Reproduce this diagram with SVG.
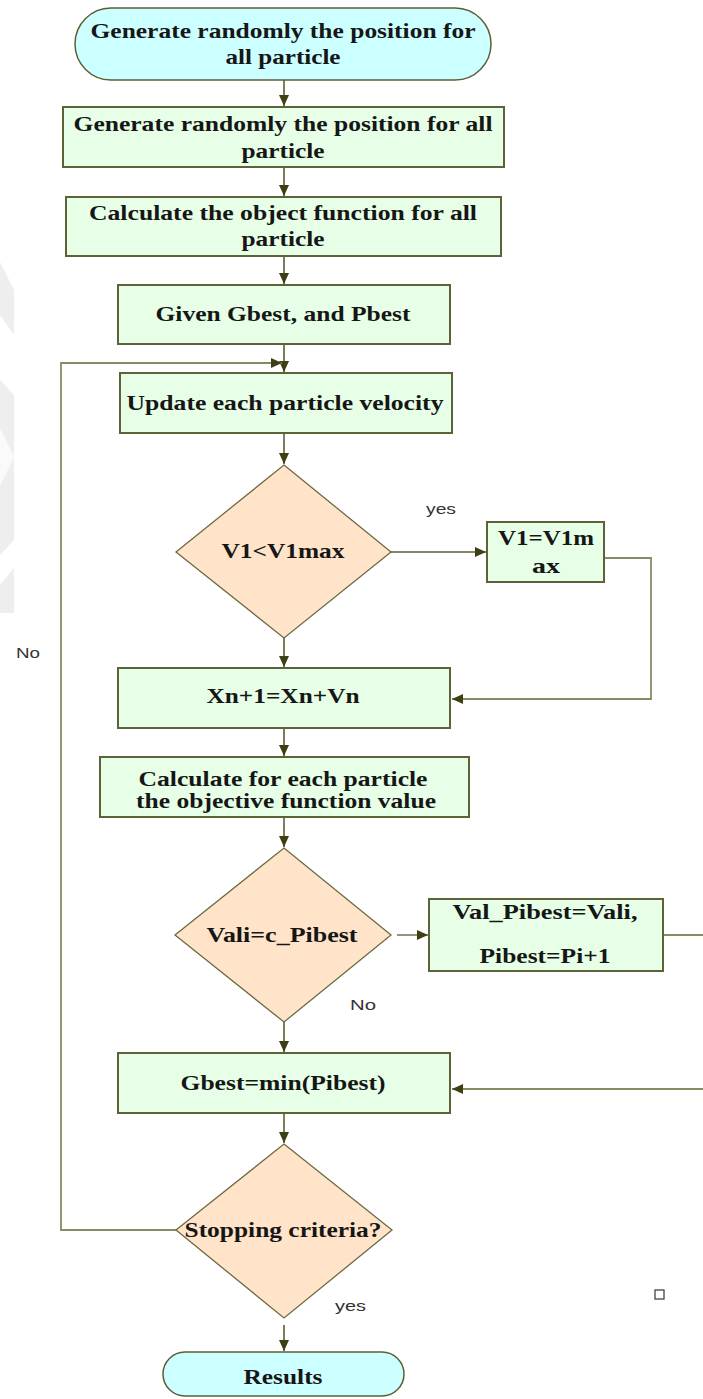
<svg xmlns="http://www.w3.org/2000/svg" width="703" height="1399" viewBox="0 0 703 1399">
<style>
.term{fill:#ccffff;stroke:#5e5e34;stroke-width:1.5}
.box{fill:#e6ffe6;stroke:#5e6238;stroke-width:2}
.dia{fill:#ffe4c9;stroke:#6e6a44;stroke-width:1.3}
.t{font-family:"Liberation Serif","Times New Roman",serif;font-weight:bold;font-size:21px;fill:#161616;text-anchor:middle}
.lbl{font-family:"Liberation Sans",Arial,sans-serif;font-size:15px;fill:#333}
.c{fill:none;stroke:#5e5e34;stroke-width:1.6}
.c2{fill:none;stroke:#8a8a66;stroke-width:1.8}
</style>
<defs>
<marker id="ah" markerUnits="userSpaceOnUse" markerWidth="12" markerHeight="10" refX="11" refY="5" orient="auto">
<path d="M0,0 L11,5 L0,10 Z" fill="#3f3f14"/>
</marker>
</defs>
<rect width="703" height="1399" fill="#fff"/>
<g id="watermark" fill="#eeeeee">
<polygon points="0,262 14,290 14,335 0,315"/>
<polygon points="0,380 14,395 14,540 0,555"/>
<polygon points="0,585 14,568 14,613 0,613"/>
<polygon points="0,428 14,457 0,486" fill="#fafafa"/>
</g>
<g id="connectors">
<path class="c" d="M284,80 V106" marker-end="url(#ah)"/>
<path class="c" d="M284,167 V196" marker-end="url(#ah)"/>
<path class="c" d="M284,256 V284" marker-end="url(#ah)"/>
<path class="c" d="M284,344 V372" marker-end="url(#ah)"/>
<path class="c" d="M284,433 V464" marker-end="url(#ah)"/>
<path class="c" d="M391,552 H486" marker-end="url(#ah)"/>
<path class="c2" d="M604,558 H651 V699 H452" marker-end="url(#ah)"/>
<path class="c" d="M284,638 V667" marker-end="url(#ah)"/>
<path class="c" d="M284,728 V756" marker-end="url(#ah)"/>
<path class="c" d="M284,817 V847" marker-end="url(#ah)"/>
<path class="c2" d="M397,935 H428" marker-end="url(#ah)"/>
<path class="c2" d="M663,935 H703"/>
<path class="c2" d="M703,1089 H452" marker-end="url(#ah)"/>
<path class="c" d="M284,1022 V1052" marker-end="url(#ah)"/>
<path class="c" d="M284,1113 V1143" marker-end="url(#ah)"/>
<path class="c2" d="M176,1230 H61 V363 H282" marker-end="url(#ah)"/>
<path class="c" d="M284,1325 V1351" marker-end="url(#ah)"/>
</g>
<g id="n_start">
<rect class="term" x="75" y="8" width="416" height="72" rx="36" ry="36"/>
<text class="t" x="283" y="38" textLength="385" lengthAdjust="spacingAndGlyphs">Generate randomly the position for</text>
<text class="t" x="283" y="64" textLength="115" lengthAdjust="spacingAndGlyphs">all particle</text>
</g>
<g id="n_gen">
<rect class="box" x="63" y="107" width="441" height="60"/>
<text class="t" x="283" y="131" textLength="419" lengthAdjust="spacingAndGlyphs">Generate randomly the position for all</text>
<text class="t" x="283" y="158" textLength="83" lengthAdjust="spacingAndGlyphs">particle</text>
</g>
<g id="n_calc">
<rect class="box" x="66" y="197" width="435" height="59"/>
<text class="t" x="283" y="220" textLength="388" lengthAdjust="spacingAndGlyphs">Calculate the object function for all</text>
<text class="t" x="283" y="246" textLength="83" lengthAdjust="spacingAndGlyphs">particle</text>
</g>
<g id="n_given">
<rect class="box" x="118" y="285" width="332" height="59"/>
<text class="t" x="283" y="321" textLength="255" lengthAdjust="spacingAndGlyphs">Given Gbest, and Pbest</text>
</g>
<g id="n_update">
<rect class="box" x="120" y="373" width="332" height="60"/>
<text class="t" x="285" y="410" textLength="317" lengthAdjust="spacingAndGlyphs">Update each particle velocity</text>
</g>
<g id="n_d1">
<polygon class="dia" points="284,465 391,552 284,638 176,552"/>
<text class="t" x="283" y="558" textLength="123" lengthAdjust="spacingAndGlyphs">V1&lt;V1max</text>
</g>
<g id="n_vmax">
<rect class="box" x="487" y="522" width="117" height="60"/>
<text class="t" x="546" y="545" textLength="96" lengthAdjust="spacingAndGlyphs">V1=V1m</text>
<text class="t" x="546" y="573" textLength="28" lengthAdjust="spacingAndGlyphs">ax</text>
</g>
<g id="n_x">
<rect class="box" x="118" y="668" width="332" height="60"/>
<text class="t" x="283" y="703" textLength="153" lengthAdjust="spacingAndGlyphs">Xn+1=Xn+Vn</text>
</g>
<g id="n_obj">
<rect class="box" x="100" y="757" width="369" height="60"/>
<text class="t" x="283" y="786" font-size="17" textLength="289" lengthAdjust="spacingAndGlyphs">Calculate for each particle</text>
<text class="t" x="286" y="808" font-size="17" textLength="300" lengthAdjust="spacingAndGlyphs">the objective function value</text>
</g>
<g id="n_d2">
<polygon class="dia" points="284,848 391,935 284,1022 175,935"/>
<text class="t" x="282" y="942" textLength="151" lengthAdjust="spacingAndGlyphs">Vali=c_Pibest</text>
</g>
<g id="n_pbest">
<rect class="box" x="429" y="899" width="234" height="72"/>
<text class="t" x="545" y="919" textLength="185" lengthAdjust="spacingAndGlyphs">Val_Pibest=Vali,</text>
<text class="t" x="545" y="963" textLength="131" lengthAdjust="spacingAndGlyphs">Pibest=Pi+1</text>
</g>
<g id="n_gbest">
<rect class="box" x="118" y="1053" width="332" height="60"/>
<text class="t" x="283" y="1090" textLength="205" lengthAdjust="spacingAndGlyphs">Gbest=min(Pibest)</text>
</g>
<g id="n_d3">
<polygon class="dia" points="284,1144 392,1230 284,1318 176,1230"/>
<text class="t" x="283" y="1237" textLength="197" lengthAdjust="spacingAndGlyphs">Stopping criteria?</text>
</g>
<g id="n_results">
<rect class="term" x="163" y="1352" width="241" height="44" rx="22" ry="22"/>
<text class="t" x="283" y="1384" textLength="79" lengthAdjust="spacingAndGlyphs">Results</text>
</g>
<g id="labels">
<text class="lbl" x="426" y="514" textLength="30" lengthAdjust="spacingAndGlyphs">yes</text>
<text class="lbl" x="16" y="658" textLength="24" lengthAdjust="spacingAndGlyphs">No</text>
<text class="lbl" x="350" y="1010" textLength="26" lengthAdjust="spacingAndGlyphs">No</text>
<text class="lbl" x="335" y="1311" textLength="31" lengthAdjust="spacingAndGlyphs">yes</text>
</g>
<rect x="655" y="1290" width="9" height="9" fill="none" stroke="#444" stroke-width="1.3"/>
</svg>
